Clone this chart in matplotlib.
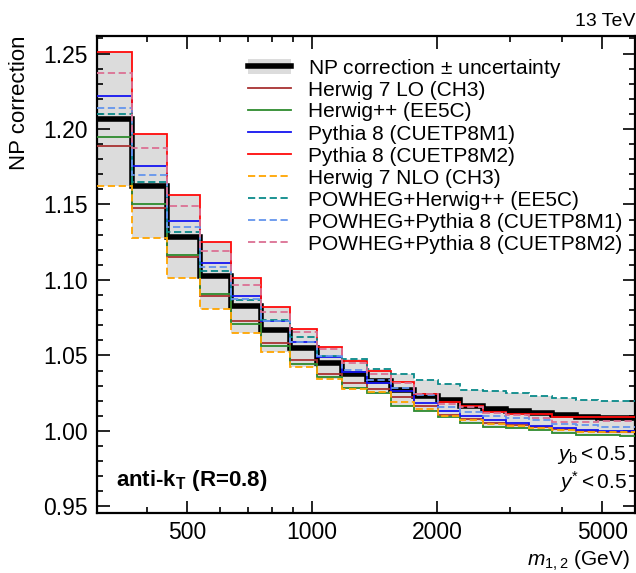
import numpy as np
import matplotlib
matplotlib.use("Agg")
import matplotlib.pyplot as plt
from matplotlib.patches import Rectangle
from matplotlib.lines import Line2D
from matplotlib.ticker import FixedLocator, NullFormatter, MultipleLocator, FixedFormatter, FormatStrFormatter

plt.rcParams['font.family'] = ['Liberation Sans', 'DejaVu Sans']
plt.rcParams['mathtext.fontset'] = 'custom'
plt.rcParams['mathtext.rm'] = 'Liberation Sans'
plt.rcParams['mathtext.it'] = 'Liberation Sans:italic'
plt.rcParams['mathtext.bf'] = 'Liberation Sans:bold'

# bin edges in m_{1,2} (GeV)
edges = [302, 368, 447, 537, 636, 754, 883, 1028, 1181, 1353, 1550, 1762,
         2006, 2273, 2582, 2934, 3333, 3787, 4314, 4901, 5523, 6002]

nominal = [1.2066, 1.162, 1.1285, 1.1028, 1.0829, 1.067, 1.0549, 1.0449, 1.0376,
           1.0332, 1.027, 1.0234, 1.0203, 1.0163, 1.0146, 1.0133, 1.0119, 1.0103,
           1.009, 1.0085, 1.0083]

herwig7_lo = [1.189, 1.1474, 1.1152, 1.0895, 1.0731, 1.0581, 1.0471, 1.0378, 1.0314,
              1.028, 1.0223, 1.0166, 1.0106, 1.0077, 1.005, 1.004, 1.0025, 1.001,
              1.0, 0.9995, 0.9995]
herwigpp = [1.1945, 1.150, 1.1165, 1.0907, 1.071, 1.0563, 1.0444, 1.036, 1.0283,
            1.025, 1.0166, 1.0129, 1.0093, 1.0054, 1.0025, 1.0017, 1.0003, 0.9987,
            0.9976, 0.997, 0.9969]
pythia_m1 = [1.222, 1.1753, 1.1388, 1.111, 1.0891, 1.0726, 1.0588, 1.0489, 1.0393,
             1.0317, 1.0263, 1.0182, 1.0133, 1.0099, 1.007, 1.0054, 1.0032, 1.0017,
             1.0003, 0.9999, 0.9997]
pythia_m2 = [1.2507, 1.1968, 1.156, 1.1249, 1.101, 1.0818, 1.0676, 1.0555, 1.046,
             1.040, 1.0324, 1.0245, 1.0194, 1.0166, 1.0127, 1.0115, 1.011, 1.0095,
             1.0095, 1.0095, 1.0095]
herwig7_nlo = [1.1625, 1.1275, 1.101, 1.0807, 1.0648, 1.0522, 1.0422, 1.0343, 1.0277,
               1.026, 1.0189, 1.0144, 1.0100, 1.007, 1.0043, 1.0032, 1.0017, 1.0003,
               0.9995, 0.999, 0.999]
powheg_herwigpp = [1.2098, 1.1647, 1.1315, 1.1056, 1.0866, 1.0736, 1.0621, 1.0495, 1.0475,
                   1.0413, 1.0375, 1.0339, 1.0312, 1.0272, 1.0267, 1.0249, 1.0234, 1.0218,
                   1.0205, 1.020, 1.0196]
powheg_pythia_m1 = [1.214, 1.1693, 1.135, 1.1085, 1.0872, 1.0729, 1.0592, 1.0493, 1.0405,
                    1.0339, 1.0283, 1.024, 1.016, 1.0122, 1.0099, 1.0088, 1.0075, 1.0043,
                    1.0036, 1.0029, 1.0029]
powheg_pythia_m2 = [1.237, 1.1872, 1.1487, 1.1189, 1.0964, 1.0789, 1.0652, 1.0542, 1.0453,
                    1.0379, 1.0317, 1.0245, 1.018, 1.0155, 1.012, 1.0105, 1.0085, 1.006,
                    1.006, 1.0065, 1.0065]

nominal_label = r"NP correction $\pm$ uncertainty"
labels = ["Herwig 7 LO (CH3)", "Herwig++ (EE5C)", "Pythia 8 (CUETP8M1)",
          "Pythia 8 (CUETP8M2)", "Herwig 7 NLO (CH3)", "POWHEG+Herwig++ (EE5C)",
          "POWHEG+Pythia 8 (CUETP8M1)", "POWHEG+Pythia 8 (CUETP8M2)"]
series = [herwig7_lo, herwigpp, pythia_m1, pythia_m2, herwig7_nlo,
          powheg_herwigpp, powheg_pythia_m1, powheg_pythia_m2]
colors = ["#a83232", "#2e8b2e", "#1414f0", "#ff0a0a", "#ffa500",
          "#0a8a8a", "#6495ed", "#db7093"]
styles = ["-", "-", "-", "-", (0, (4, 2)), (0, (4, 2)), (0, (4, 2)), (0, (4, 2))]

W, H = 636, 573
fig = plt.figure(figsize=(W / 100, H / 100), dpi=100)
ax = fig.add_axes([96.5 / W, 1 - 513 / H, (635 - 96.5) / W, (513 - 36) / H])

arr = np.array(series)
lo = arr.min(axis=0)
hi = arr.max(axis=0)
ax.stairs(hi, edges, baseline=lo, fill=True, color="#dcdcdc", lw=0, zorder=1)

ax.stairs(nominal, edges, baseline=None, color="black", lw=4, zorder=2)
for vals, c, ls in zip(series, colors, styles):
    ax.stairs(vals, edges, baseline=None, color=c, lw=1.3, linestyle=ls, zorder=3)

ax.set_xscale("log")
ax.set_xlim(edges[0], edges[-1])
ax.set_ylim(0.9456, 1.2616)

ax.xaxis.set_major_locator(FixedLocator([500, 1000, 2000, 5000]))
ax.xaxis.set_major_formatter(FixedFormatter(["500", "1000", "2000", "5000"]))
ax.xaxis.set_minor_locator(FixedLocator([400, 600, 700, 800, 900, 3000, 4000, 6000]))
ax.xaxis.set_minor_formatter(NullFormatter())
ax.yaxis.set_major_locator(MultipleLocator(0.05))
ax.yaxis.set_minor_locator(MultipleLocator(0.01))
ax.yaxis.set_major_formatter(FormatStrFormatter("%.2f"))

ax.tick_params(which="both", direction="in", top=True, right=True, labelsize=16.5, width=1.2)
ax.tick_params(which="major", length=9, pad=6)
ax.tick_params(which="minor", length=4.5)
for s in ax.spines.values():
    s.set_linewidth(1.6)

fig.text(20 / W, 1 - 35 / H, "NP correction", rotation=90, ha="center", va="top", fontsize=16)
ax.set_xlabel("$m_{1,2}$ (GeV)", fontsize=15, ha="right")
ax.xaxis.set_label_coords(0.99, -0.075)

ax.text(1.0, 1.012, "13 TeV", transform=ax.transAxes, ha="right", va="bottom", fontsize=14)
ax.text(0.036, 0.068, r"anti-k$_\mathbf{T}$ (R=0.8)", transform=ax.transAxes, ha="left",
        va="center", fontsize=16, fontweight="bold")
ax.text(0.985, 0.122, r"$y_\mathrm{b} < 0.5$", transform=ax.transAxes, ha="right",
        va="center", fontsize=15)
ax.text(0.985, 0.064, r"$y^{*} < 0.5$", transform=ax.transAxes, ha="right",
        va="center", fontsize=15)

# legend, drawn row by row in figure pixels
x0, x1, xt = 248, 291, 308
for i in range(9):
    yp = 66 + 22 * i
    yf = 1 - yp / H
    if i == 0:
        fig.add_artist(Rectangle((x0 / W, 1 - (yp + 7.5) / H), (x1 - x0) / W, 15 / H,
                                 transform=fig.transFigure, facecolor="#dcdcdc", edgecolor="none"))
        fig.add_artist(Line2D([x0 / W, x1 / W], [yf, yf], transform=fig.transFigure,
                              color="black", lw=4))
        txt = nominal_label
    else:
        fig.add_artist(Line2D([x0 / W, x1 / W], [yf, yf], transform=fig.transFigure,
                              color=colors[i - 1], lw=1.3, linestyle=styles[i - 1]))
        txt = labels[i - 1]
    fig.text(xt / W, yf, txt, ha="left", va="center_baseline", fontsize=15)

fig.savefig("out.png", dpi=100)
